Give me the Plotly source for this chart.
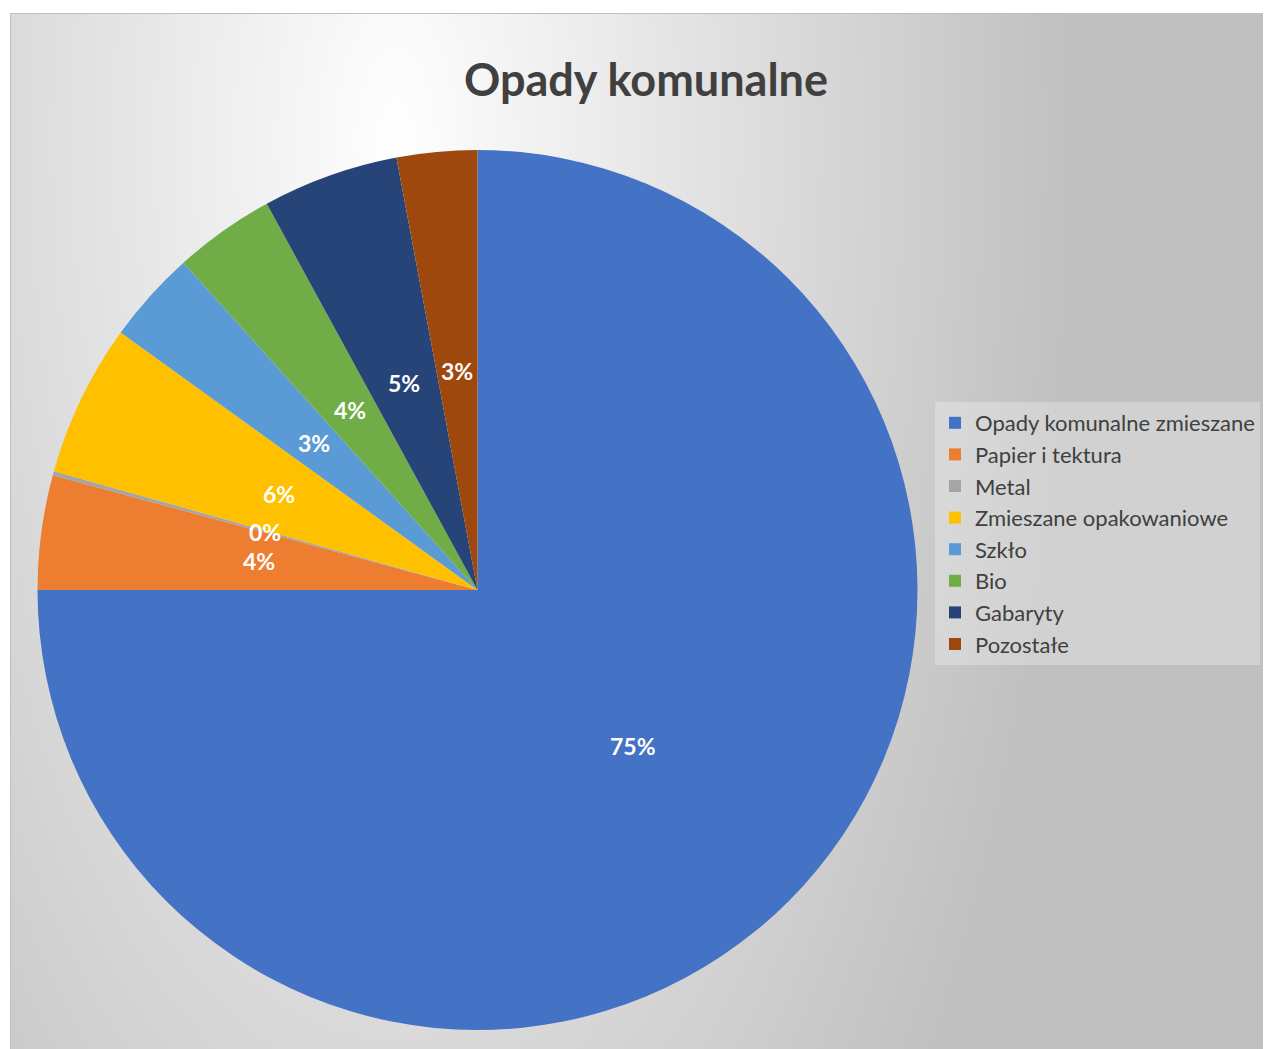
import base64
import struct
import zlib

import numpy as np
import plotly.graph_objects as go

# the page has an 8px body margin, so the figure is 8px smaller than the window
W, H = 1263, 1041

categories = ["Opady komunalne zmieszane", "Papier i tektura", "Metal",
              "Zmieszane opakowaniowe", "Szkło", "Bio", "Gabaryty", "Pozostałe"]
shares = [75.0, 4.2, 0.15, 5.6, 3.4, 3.7, 5.0, 2.95]
colors = ["#4472C4", "#ED7D31", "#A5A5A5", "#FFC000",
          "#5B9BD5", "#70AD47", "#264478", "#9E480E"]


def gradient_png(w, h):
    # elliptical radial gradient, white near the title fading to grey
    cx, cy, ax, ay = 385 / 2, 127 / 2, 684 / 2, 1527 / 2
    yy, xx = np.mgrid[0:h, 0:w]
    d = np.sqrt(((xx - cx) / ax) ** 2 + ((yy - cy) / ay) ** 2)
    g = (255 - 63 * np.clip(d, 0, 1)).astype(np.uint8)
    raw = b"".join(b"\x00" + row.tobytes() for row in g)

    def chunk(tag, data):
        c = tag + data
        return struct.pack(">I", len(data)) + c + struct.pack(">I", zlib.crc32(c) & 0xFFFFFFFF)

    png = b"\x89PNG\r\n\x1a\n"
    png += chunk(b"IHDR", struct.pack(">IIBBBBB", w, h, 8, 0, 0, 0, 0))
    png += chunk(b"IDAT", zlib.compress(raw, 9))
    png += chunk(b"IEND", b"")
    return "data:image/png;base64," + base64.b64encode(png).decode()


# pie placement in pixels (left, right, top, bottom)
pl, pr, pt, pb = 29, 910, 142, 1022

fig = go.Figure(go.Pie(
    labels=categories,
    values=shares,
    sort=False,
    direction="clockwise",
    rotation=0,
    marker=dict(colors=colors, line=dict(width=0)),
    textinfo="none",
    hoverinfo="label+percent",
    domain=dict(x=[pl / W, pr / W], y=[(H - pb) / H, (H - pt) / H]),
))

# percentage labels at half the radius, like Excel's data labels
cx, cy, r = (pl + pr) / 2, (pt + pb) / 2, (pb - pt) / 2
total = sum(shares)
start = 0.0
for v in shares:
    mid = 2 * np.pi * (start + v / 2) / total
    start += v
    x = cx + 0.5 * r * np.sin(mid)
    y = cy - 0.5 * r * np.cos(mid)
    fig.add_annotation(x=x / W, y=1 - y / H, xref="paper", yref="paper",
                       xanchor="center", yanchor="middle",
                       text=f"<b>{round(v / total * 100)}%</b>", showarrow=False,
                       font=dict(family="Lato", size=23, color="white"))

fig.update_layout(
    width=W, height=H,
    margin=dict(l=0, r=0, t=0, b=0),
    paper_bgcolor="white",
    title=dict(text="<b>Opady komunalne</b>", x=638 / W, xanchor="center",
               y=1 - 72 / H, yanchor="middle",
               font=dict(family="Lato", size=45, color="#404040")),
    legend=dict(x=927 / W, y=1 - 394 / H, xanchor="left", yanchor="top",
                bgcolor="rgba(255,255,255,0.28)", borderwidth=0,
                font=dict(family="Lato", size=22, color="#404040"),
                itemwidth=30),
    images=[dict(source=gradient_png(631, 518), xref="paper", yref="paper",
                 x=2 / W, y=1 - 5 / H, sizex=1 - 2 / W, sizey=1 - 5 / H,
                 xanchor="left", yanchor="top", sizing="stretch", layer="below")],
    shapes=[dict(type="rect", xref="paper", yref="paper",
                 x0=2.5 / W, x1=1.01, y0=-0.01, y1=1 - 5.5 / H,
                 line=dict(color="#BFBFBF", width=1), layer="below")],
)

fig.write_html("out.html")
